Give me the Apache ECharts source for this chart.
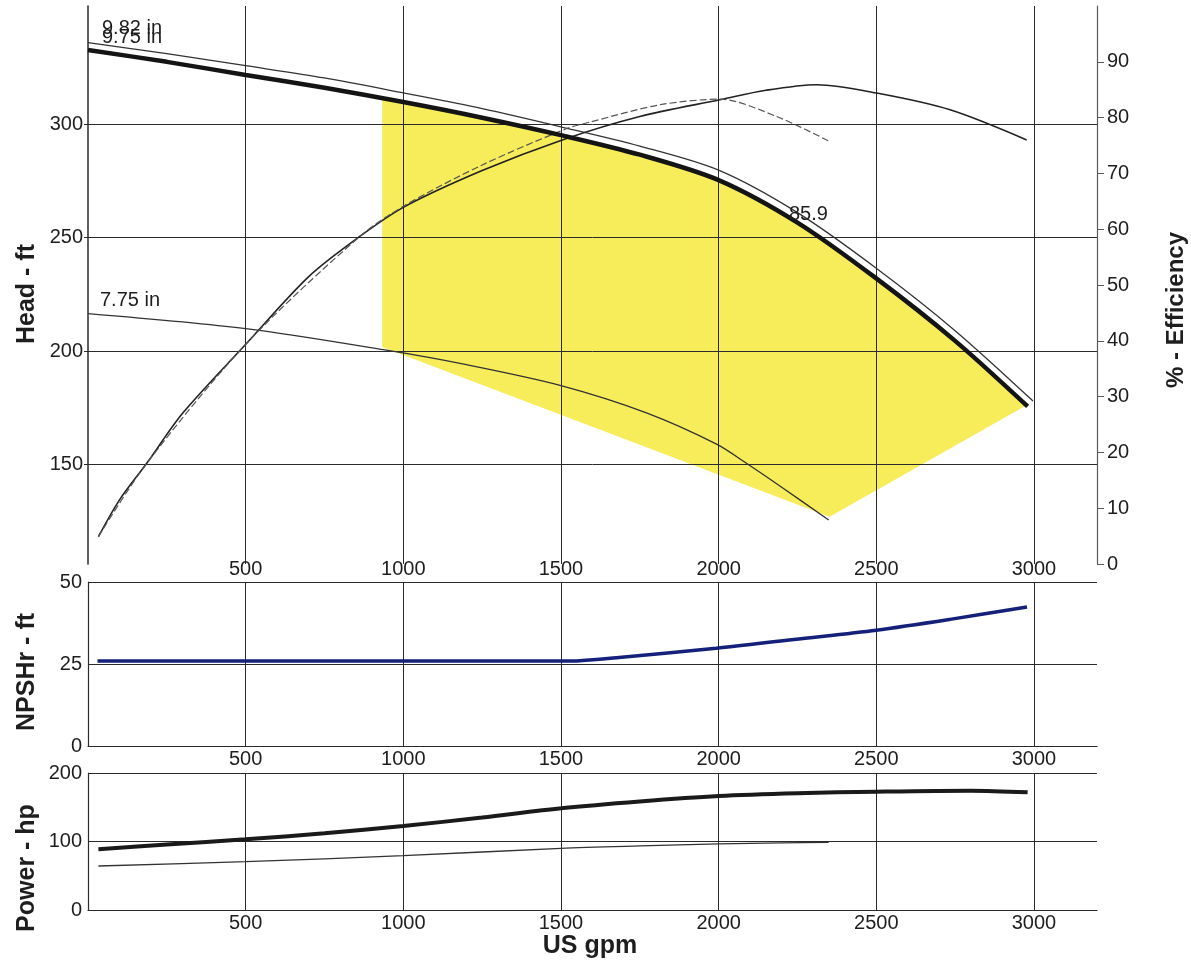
<!DOCTYPE html>
<html><head><meta charset="utf-8">
<script src="https://cdn.jsdelivr.net/npm/echarts@6/dist/echarts.min.js"></script>
<style>html,body{margin:0;padding:0;background:#fff}#c{width:1191px;height:960px}</style>
</head><body><div id="c"></div>
<script>
// ---- tick labels ----
const flowTicks = [500, 1000, 1500, 2000, 2500, 3000];
const headTicks = [150, 200, 250, 300];
const effTicks = [0, 10, 20, 30, 40, 50, 60, 70, 80, 90];

// ---- head curves (US gpm, ft) ----
const flow982 = [0, 250, 500, 750, 1000, 1250, 1500, 1750, 2000, 2250, 2500, 2750, 2997];
const head982 = [335.9, 331.0, 325.7, 320.3, 313.7, 306.8, 298.8, 290.3, 279.7, 261.0, 236.5, 209.0, 178.0];
const flow975 = [0, 250, 500, 750, 1000, 1250, 1500, 1750, 2000, 2250, 2500, 2750, 2980];
const head975 = [332.6, 327.4, 321.6, 316.0, 309.7, 302.8, 295.1, 286.5, 275.3, 256.6, 232.0, 204.5, 175.6];
const flow775 = [0, 500, 937, 1200, 1500, 1769, 1995, 2094, 2200, 2349];
const head775 = [216.5, 209.9, 200.6, 194.0, 184.8, 172.9, 158.9, 150.0, 140.0, 125.6];

// ---- efficiency curves (%) ----
const flowEff975 = [33, 100, 187, 300, 504, 700, 862, 1003, 1250, 1504, 1750, 2004, 2150, 2311, 2501, 2734, 2977];
const eff975 = [4.9, 11.5, 18.1, 27.0, 39.6, 51.5, 58.7, 64.0, 70.5, 76.0, 80.2, 83.2, 84.9, 85.9, 84.4, 81.4, 76.0];
const flowEff775 = [33, 187, 504, 862, 1003, 1250, 1517, 1592, 1814, 2004, 2184, 2353];
const eff775 = [4.9, 18.1, 39.6, 58.7, 64.2, 71.5, 78.0, 79.2, 82.3, 83.3, 80.2, 75.7];

// ---- preferred operating region (yellow) ----
const yellowFlow = [933, 2352, 2975, 2750, 2500, 2250, 2000, 1750, 1500, 1250, 933];
const yellowHead = [201.8, 127.0, 176.0, 204.5, 232.0, 256.6, 275.3, 286.5, 295.1, 302.8, 311.6];

// ---- NPSHr (ft) ----
const flowNpsh = [30, 500, 1000, 1500, 1560, 1684, 1992, 2239, 2500, 2734, 2978];
const npsh = [25.9, 25.9, 25.9, 25.9, 26.0, 27.0, 29.8, 32.5, 35.3, 38.6, 42.4];

// ---- Power (hp) ----
const flowPow975 = [33, 250, 500, 750, 1000, 1250, 1500, 1750, 2000, 2250, 2500, 2800, 2980];
const pow975 = [88.6, 95.5, 103.2, 112.0, 122.6, 135.0, 148.5, 158.5, 166.4, 170.5, 172.7, 174.2, 171.8];
const flowPow775 = [33, 500, 1000, 1500, 1750, 2000, 2200, 2349];
const pow775 = [64.2, 70.5, 79.3, 90.0, 93.5, 96.4, 98.0, 98.8];

const zip = (a, b) => a.map((v, i) => [v, b[i]]);
const FONT = '"Liberation Sans", Arial, Helvetica, sans-serif';
const INK = '#1e1e1e';
const GRID = '#2a2a2a';
const plain = v => String(v);

const chart = echarts.init(document.getElementById('c'), null, {renderer: 'canvas'});

function xAx(gi, showLine) {
  return {
    type: 'value', gridIndex: gi, min: 0, max: 3200, interval: 500, z: 2,
    axisLine: {show: showLine, lineStyle: {color: GRID, width: 1.2}},
    axisTick: {show: false, customValues: flowTicks},
    axisLabel: {customValues: flowTicks, formatter: plain, color: INK, fontFamily: FONT, fontSize: 20,
                margin: gi === 0 ? 5 : 3, verticalAlign: gi === 0 ? 'middle' : 'top'},
    splitLine: {show: true, lineStyle: {color: GRID, width: 1}}
  };
}
function yLab() { return {color: INK, fontFamily: FONT, fontSize: 20, margin: 6, formatter: plain}; }

const option = {
  animation: false,
  backgroundColor: '#ffffff',
  grid: [
    {left: 88, top: 6, width: 1009, height: 558},
    {left: 88, top: 582, width: 1009, height: 164},
    {left: 88, top: 773, width: 1009, height: 137}
  ],
  xAxis: [xAx(0, false), xAx(1, true), xAx(2, true)],
  yAxis: [
    {type: 'value', gridIndex: 0, min: 106.2, max: 352, position: 'left', z: 2,
     axisLine: {show: true, lineStyle: {color: GRID, width: 1.5}},
     axisTick: {show: true, length: 4, customValues: headTicks, lineStyle: {color: GRID}},
     axisLabel: Object.assign(yLab(), {customValues: headTicks, margin: 5}),
     splitLine: {show: true, lineStyle: {color: GRID, width: 1}}},
    {type: 'value', gridIndex: 0, min: 0, max: 100, position: 'right', z: 2,
     axisLine: {show: true, lineStyle: {color: '#5a5a5a', width: 1.2}},
     axisTick: {show: true, length: 7, customValues: effTicks, lineStyle: {color: '#5a5a5a'}},
     axisLabel: Object.assign(yLab(), {customValues: effTicks, margin: 10}),
     splitLine: {show: false}},
    {type: 'value', gridIndex: 1, min: 0, max: 50, interval: 25,
     axisLine: {show: true, lineStyle: {color: GRID, width: 1.2}},
     axisTick: {show: false},
     axisLabel: yLab(),
     splitLine: {show: true, lineStyle: {color: GRID, width: 1.2}}},
    {type: 'value', gridIndex: 2, min: 0, max: 200, interval: 100,
     axisLine: {show: true, lineStyle: {color: GRID, width: 1.2}},
     axisTick: {show: false},
     axisLabel: yLab(),
     splitLine: {show: true, lineStyle: {color: GRID, width: 1.2}}}
  ],
  series: [
    {type: 'custom', xAxisIndex: 0, yAxisIndex: 0, z: 1, silent: true,
     data: [[yellowFlow[0], yellowHead[0]]],
     renderItem: function (params, api) {
       if (params.dataIndex !== 0) return null;
       const pts = yellowFlow.map((f, i) => api.coord([f, yellowHead[i]]));
       return {type: 'polygon', shape: {points: pts}, style: {fill: '#f7ec5a'}};
     }},
    {type: 'line', name: '9.82 in', xAxisIndex: 0, yAxisIndex: 0, z: 3, data: zip(flow982, head982),
     smooth: 0.3, showSymbol: false, lineStyle: {color: '#333', width: 1.3}},
    {type: 'line', name: '9.75 in', xAxisIndex: 0, yAxisIndex: 0, z: 4, data: zip(flow975, head975),
     smooth: 0.3, showSymbol: false, lineStyle: {color: '#141414', width: 4.5}},
    {type: 'line', name: '7.75 in', xAxisIndex: 0, yAxisIndex: 0, z: 3, data: zip(flow775, head775),
     smooth: 0.3, showSymbol: false, lineStyle: {color: '#333', width: 1.3}},
    {type: 'line', name: 'Eff 9.75', xAxisIndex: 0, yAxisIndex: 1, z: 3, data: zip(flowEff975, eff975),
     smooth: 0.3, showSymbol: false, lineStyle: {color: '#222', width: 1.6}},
    {type: 'line', name: 'Eff 7.75', xAxisIndex: 0, yAxisIndex: 1, z: 3, data: zip(flowEff775, eff775),
     smooth: 0.3, showSymbol: false, lineStyle: {color: '#555', width: 1.2, type: [7, 3]}},
    {type: 'line', name: 'NPSHr', xAxisIndex: 1, yAxisIndex: 2, z: 3, data: zip(flowNpsh, npsh),
     smooth: 0.3, showSymbol: false, lineStyle: {color: '#15207a', width: 3.5}},
    {type: 'line', name: 'Power 9.75', xAxisIndex: 2, yAxisIndex: 3, z: 3, data: zip(flowPow975, pow975),
     smooth: 0.3, showSymbol: false, lineStyle: {color: '#1a1a1a', width: 4}},
    {type: 'line', name: 'Power 7.75', xAxisIndex: 2, yAxisIndex: 3, z: 3, data: zip(flowPow775, pow775),
     smooth: 0.3, showSymbol: false, lineStyle: {color: '#333', width: 1.3}}
  ],
  graphic: [
    {type: 'text', x: 102, y: 28, z: 10, style: {text: '9.82 in', fontFamily: FONT, fontSize: 20, fill: INK, align: 'left', verticalAlign: 'middle'}},
    {type: 'text', x: 102, y: 37, z: 10, style: {text: '9.75 in', fontFamily: FONT, fontSize: 20, fill: INK, align: 'left', verticalAlign: 'middle'}},
    {type: 'text', x: 100, y: 300, z: 10, style: {text: '7.75 in', fontFamily: FONT, fontSize: 20, fill: INK, align: 'left', verticalAlign: 'middle'}},
    {type: 'text', x: 789, y: 214, z: 10, style: {text: '85.9', fontFamily: FONT, fontSize: 20, fill: INK, align: 'left', verticalAlign: 'middle'}},
    {type: 'text', x: 27, y: 294, rotation: Math.PI / 2, style: {text: 'Head - ft', fontFamily: FONT, fontSize: 25, fontWeight: 'bold', fill: INK, align: 'center', verticalAlign: 'middle'}},
    {type: 'text', x: 1176, y: 310, rotation: Math.PI / 2, style: {text: '% - Efficiency', fontFamily: FONT, fontSize: 24, fontWeight: 'bold', fill: INK, align: 'center', verticalAlign: 'middle'}},
    {type: 'text', x: 27, y: 672, rotation: Math.PI / 2, style: {text: 'NPSHr - ft', fontFamily: FONT, fontSize: 25, fontWeight: 'bold', fill: INK, align: 'center', verticalAlign: 'middle'}},
    {type: 'text', x: 27, y: 868, rotation: Math.PI / 2, style: {text: 'Power - hp', fontFamily: FONT, fontSize: 25, fontWeight: 'bold', fill: INK, align: 'center', verticalAlign: 'middle'}},
    {type: 'text', x: 590, y: 946, style: {text: 'US gpm', fontFamily: FONT, fontSize: 25, fontWeight: 'bold', fill: INK, align: 'center', verticalAlign: 'middle'}}
  ]
};
chart.setOption(option);
</script>
</body></html>
